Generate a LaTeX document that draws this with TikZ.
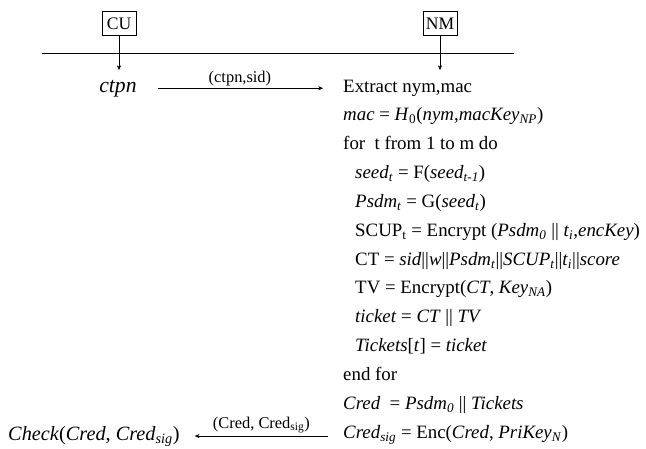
\documentclass[tikz,border=0pt]{standalone}
\usepackage{fontspec}
\setmainfont{Liberation Serif}
\usetikzlibrary{arrows.meta}
% italic words and subscripts in text mode
\newcommand{\itx}[1]{\textit{#1}}
\newcommand{\sbx}[1]{\textsubscript{#1}}
\tikzset{
  party/.style={draw, line width=0.7pt, minimum width=1.02cm, minimum height=0.72cm, inner sep=0pt, font=\fontsize{15}{16}\selectfont},
  stepline/.style={anchor=base west, inner sep=0pt, font=\fontsize{16.1}{18}\selectfont},
  lbl/.style={inner sep=2pt, font=\fontsize{14}{16}\selectfont},
  msg/.style={-{Stealth[length=4pt,width=3.5pt]}, thin},
  down/.style={-{Stealth[length=4pt,width=3.5pt]}, thin}
}
\begin{document}
\begin{tikzpicture}[x=0.03cm, y=-0.03cm]
    \useasboundingbox (0,0) rectangle (646,448);
    % Parties
    \node[party] (cu) at (119,23.5) {CU};
    \node[party] (nm) at (440,23.5) {NM};
    \coordinate (cuend) at (119,70);
    \coordinate (nmend) at (440,70);
    \draw[thin] (42,53) -- (514,53);
    \draw[down] (cu) -- (cuend);
    \draw[down] (nm) -- (nmend);
    % CU side
    \node[anchor=base, inner sep=0pt, font=\fontsize{18.5}{20}\selectfont] (ctpn) at (118,92) {\itx{ctpn}};
    \node[anchor=base west, inner sep=0pt, font=\fontsize{17.3}{20}\selectfont] (check) at (8,440)
        {\itx{Check}(\itx{Cred}, \itx{Cred}\sbx{\itx{sig}})};
    % NM side
    \node[stepline] (extract) at (343,92) {Extract nym,mac};
    \node[stepline] (mac) at (343,120.8) {\itx{mac} = \itx{H}\sbx{0}(\itx{nym},\itx{macKey}\sbx{\itx{NP}})};
    \node[stepline] (loop) at (343,149.7) {for\ \ t from 1 to m do};
    \node[stepline] (seed) at (355,178.5) {\itx{seed}\sbx{\itx{t}} = F(\itx{seed}\sbx{\itx{t-1}})};
    \node[stepline] (psdm) at (355,207.3) {\itx{Psdm}\sbx{\itx{t}} = G(\itx{seed}\sbx{\itx{t}})};
    \node[stepline] (scup) at (355,236.2) {SCUP\sbx{t} = Encrypt (\itx{Psdm}\sbx{\itx{0}} || \itx{t}\sbx{\itx{i}},\itx{encKey})};
    \node[stepline] (ct) at (355,265) {CT = \itx{sid}||\itx{w}||\itx{Psdm}\sbx{\itx{t}}||\itx{SCUP}\sbx{\itx{t}}||\itx{t}\sbx{\itx{i}}||\itx{score}};
    \node[stepline] (tv) at (355,293.8) {TV = Encrypt(\itx{CT}, \itx{Key}\sbx{\itx{NA}})};
    \node[stepline] (ticket) at (355,322.7) {\itx{ticket} = \itx{CT} || \itx{TV}};
    \node[stepline] (tickets) at (355,351.5) {\itx{Tickets}[\itx{t}] = \itx{ticket}};
    \node[stepline] (endloop) at (343,380.3) {end\ for};
    \node[stepline] (cred) at (343,409.2) {\itx{Cred}\ \ = \itx{Psdm}\sbx{\itx{0}} || \itx{Tickets}};
    \node[stepline] (credsig) at (343,438) {\itx{Cred}\sbx{\itx{sig}} = Enc(\itx{Cred}, \itx{PriKey}\sbx{\itx{N}})};
    % Messages
    \draw[msg, shorten <=0.63cm, shorten >=0.6cm] (ctpn.east) -- (ctpn.east -| extract.west)
        node[midway, above, lbl] {(ctpn,sid)};
    \draw[msg, shorten <=0.45cm, shorten >=0.45cm] ([yshift=0.06cm]credsig.base west) -- ([yshift=0.06cm]credsig.base west -| check.east)
        node[midway, above, lbl] {(Cred, Cred\sbx{sig})};
\end{tikzpicture}
\end{document}
